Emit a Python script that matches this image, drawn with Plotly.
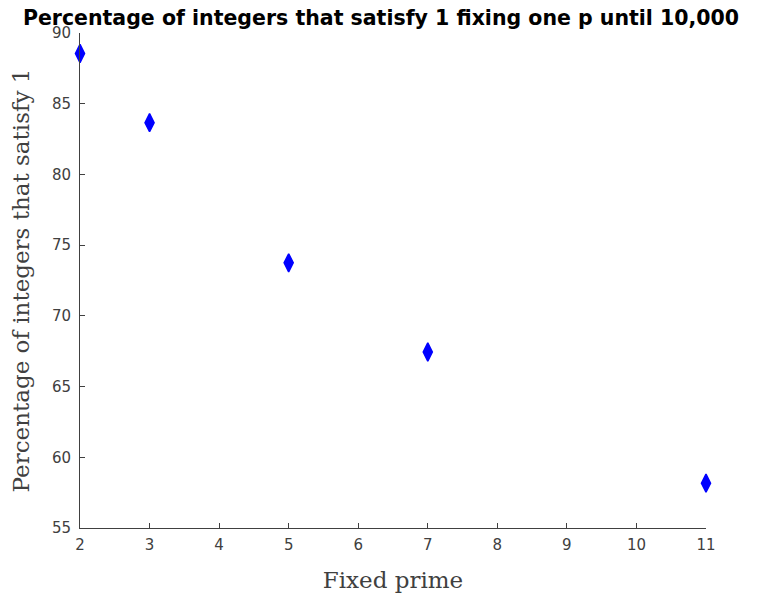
import plotly.graph_objects as go

primes = [2, 3, 5, 7, 11]
percentages = [88.55, 83.66, 73.75, 67.44, 58.17]

x_ticks = [2, 3, 4, 5, 6, 7, 8, 9, 10, 11]
y_ticks = [55, 60, 65, 70, 75, 80, 85, 90]

# page body has an 8px margin, so the figure is sized to fit inside the window
W, H = 766, 587

fig = go.Figure()
fig.add_trace(go.Scatter(
    x=primes, y=percentages, mode="markers",
    marker=dict(symbol="diamond-tall", color="#0000ff", size=13,
                line=dict(width=1.5, color="#0000ff")),
    cliponaxis=False, showlegend=False,
))

fig.update_layout(
    width=W, height=H,
    margin=dict(l=72, r=68, t=25, b=67),
    paper_bgcolor="white", plot_bgcolor="white",
    title=dict(
        text="<b>Percentage of integers that satisfy 1 fixing one p until 10,000</b>",
        font=dict(family="DejaVu Sans", size=20.5, color="black"),
        x=(381 - 8) / W, xanchor="center", y=1 - 3 / H, yanchor="top",
        pad=dict(t=0, b=0, l=0, r=0),
    ),
)
axis_common = dict(
    showgrid=False, zeroline=False, showline=True, linecolor="#404040", linewidth=1,
    ticks="inside", ticklen=5, tickcolor="#404040",
    tickfont=dict(family="DejaVu Sans", size=15, color="#404040"),
    mirror=False, automargin=False,
)
fig.update_xaxes(
    range=[2, 11], tickvals=x_ticks, ticktext=[str(v) for v in x_ticks],
    ticklabelstandoff=3,
    title=dict(text="Fixed prime", font=dict(family="DejaVu Serif", size=23, color="#404040"), standoff=18),
    **axis_common,
)
fig.update_yaxes(
    range=[55, 90], tickvals=y_ticks, ticktext=[str(v) for v in y_ticks],
    ticklabelstandoff=5,
    title=dict(text="Percentage of integers that satisfy 1", font=dict(family="DejaVu Serif", size=23, color="#404040"), standoff=16),
    **axis_common,
)

fig.write_html("out.html")
